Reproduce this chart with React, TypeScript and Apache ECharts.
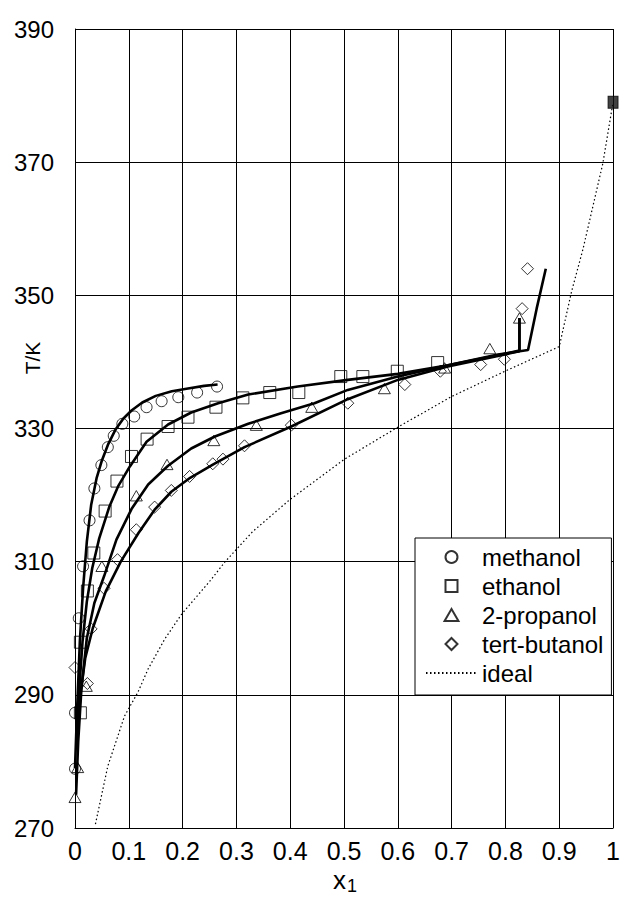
import React, { useEffect, useRef } from "react";
import * as echarts from "echarts";

// x1 (mole fraction) vs T/K
const methanolPoints: number[][] = [
  [0.0, 278.9], [0.0, 287.3], [0.007, 301.5], [0.015, 309.3], [0.027, 316.2], [0.036, 321.0],
  [0.049, 324.5], [0.061, 327.2], [0.072, 328.9], [0.088, 330.7], [0.11, 331.8], [0.133, 333.2],
  [0.161, 334.1], [0.192, 334.7], [0.227, 335.4], [0.264, 336.3],
];
const methanolFit: number[][] = [
  [0.0, 279], [0.004, 288], [0.009, 298], [0.015, 306], [0.022, 313], [0.03, 318.5], [0.04, 322.5],
  [0.05, 325.2], [0.062, 327.7], [0.075, 329.8], [0.09, 331.5], [0.105, 332.7], [0.125, 333.9],
  [0.15, 334.9], [0.18, 335.6], [0.21, 336.0], [0.24, 336.4], [0.265, 336.6],
];

const ethanolPoints: number[][] = [
  [0.01, 287.3], [0.01, 297.9], [0.023, 305.6], [0.035, 311.3], [0.056, 317.6], [0.078, 322.1],
  [0.105, 325.8], [0.134, 328.4], [0.173, 330.3], [0.21, 331.7], [0.262, 333.2], [0.312, 334.6],
  [0.362, 335.4], [0.416, 335.4], [0.494, 337.8], [0.535, 337.8], [0.599, 338.6], [0.674, 339.9],
];
const ethanolFit: number[][] = [
  [0.003, 283], [0.008, 291], [0.014, 298], [0.022, 304], [0.032, 309], [0.045, 313.5], [0.064, 318.3],
  [0.08, 321.3], [0.102, 324.3], [0.133, 328.0], [0.173, 330.6], [0.216, 332.4], [0.266, 333.8],
  [0.322, 335.1], [0.414, 336.3], [0.507, 337.3], [0.6, 338.2], [0.693, 339.5], [0.786, 341.1],
  [0.842, 341.8], [0.858, 348], [0.875, 354],
];

const propanolPoints: number[][] = [
  [0.0, 274.6], [0.005, 279.1], [0.021, 291.3], [0.05, 309.3], [0.114, 319.9], [0.171, 324.6],
  [0.258, 328.2], [0.337, 330.5], [0.44, 333.2], [0.575, 336.0], [0.687, 339.1], [0.771, 342.0],
  [0.826, 346.6],
];
const propanolFit: number[][] = [
  [0.002, 275], [0.006, 283], [0.012, 291], [0.022, 298.5], [0.036, 303.8], [0.054, 307.8],
  [0.077, 313.3], [0.105, 317.9], [0.136, 321.6], [0.173, 324.4], [0.216, 327.0], [0.26, 328.8],
  [0.322, 330.7], [0.383, 332.3], [0.445, 333.8], [0.507, 335.8], [0.6, 337.8], [0.7, 339.6],
  [0.786, 341.0], [0.826, 341.7], [0.826, 346.6],
];

const butanolPoints: number[][] = [
  [0.0, 294.1], [0.023, 291.7], [0.03, 299.9], [0.054, 306.0], [0.079, 310.3], [0.114, 314.8],
  [0.148, 318.2], [0.179, 320.7], [0.213, 322.8], [0.256, 324.7], [0.275, 325.4], [0.315, 327.4],
  [0.402, 330.5], [0.507, 333.8], [0.613, 336.6], [0.679, 338.6], [0.754, 339.6], [0.798, 340.4],
  [0.831, 348.0], [0.841, 354.0],
];
const butanolFit: number[][] = [
  [0.004, 283], [0.01, 290], [0.019, 295.5], [0.033, 300], [0.057, 305.5], [0.085, 310], [0.118, 314.3],
  [0.148, 317.8], [0.179, 320.5], [0.214, 322.6], [0.257, 324.6], [0.315, 327.2], [0.402, 330.3],
  [0.507, 334.4], [0.6, 337.3], [0.693, 339.3], [0.786, 340.9], [0.826, 341.6], [0.826, 346.6],
];

const idealLine: number[][] = [
  [0.038, 270.6], [0.061, 279.3], [0.092, 286.8], [0.117, 290.4], [0.136, 293.9], [0.167, 298.4],
  [0.198, 302.1], [0.253, 307.3], [0.278, 309.9], [0.33, 314.5], [0.399, 319.3], [0.501, 325.4],
  [0.6, 330.2], [0.7, 334.8], [0.799, 338.6], [0.9, 342.3], [0.923, 350.6], [0.944, 356.9],
  [0.981, 369.8], [1.0, 379.0],
];

const pureSolvent: number[][] = [[1.0, 379.0]];

const legendNames = ["methanol", "ethanol", "2-propanol", "tert-butanol", "ideal"];

const FONT = "'Liberation Sans', Arial, Helvetica, sans-serif";

const SQUARE = "path://M0 0H10V10H0Z";
const TRIANGLE = "path://M5 0L10.5 9.5H-0.5Z";
const DIAMOND = "path://M5 0L10 5L5 10L0 5Z";

export default function App() {
  const ref = useRef<HTMLDivElement>(null);

  useEffect(() => {
    if (!ref.current) return;
    const chart = echarts.init(ref.current, undefined, { renderer: "svg" });

    const markerStyle = {
      color: "rgba(0,0,0,0)",
      borderColor: "#000",
      borderWidth: 1,
    };
    const fitStyle = { color: "#000", width: 2.6 };

    const scatter = (name: string, symbol: string, size: number, data: number[][]) => ({
      name,
      type: "scatter",
      symbol,
      symbolSize: size,
      symbolKeepAspect: true,
      data,
      clip: false,
      itemStyle: markerStyle,
      z: 4,
    });
    const fit = (name: string, data: number[][]) => ({
      name,
      type: "line",
      data,
      symbol: "none",
      showSymbol: false,
      clip: false,
      lineStyle: fitStyle,
      z: 3,
    });

    const option: any = {
      animation: false,
      backgroundColor: "#fff",
      textStyle: { fontFamily: FONT, color: "#000" },
      grid: { left: 75, right: 7, top: 29, bottom: 69, containLabel: false },
      xAxis: {
        type: "value",
        min: 0,
        max: 1,
        interval: 0.1,
        axisLine: { show: true, lineStyle: { color: "#000", width: 1 } },
        axisTick: { show: false },
        axisLabel: {
          fontSize: 25,
          color: "#000",
          fontFamily: FONT,
          margin: 10,
          formatter: (v: number) => String(Math.round(v * 10) / 10),
        },
        splitLine: { show: true, lineStyle: { color: "#000", width: 1 } },
      },
      yAxis: {
        type: "value",
        min: 270,
        max: 390,
        interval: 20,
        axisLine: { show: true, lineStyle: { color: "#000", width: 1 } },
        axisTick: { show: false },
        axisLabel: { fontSize: 24, color: "#000", fontFamily: FONT, margin: 21 },
        splitLine: { show: true, lineStyle: { color: "#000", width: 1 } },
      },
      legend: {
        orient: "vertical",
        left: 415,
        top: 538,
        padding: [7, 8, 10, 10],
        itemWidth: 51,
        itemHeight: 12,
        itemGap: 5,
        symbolKeepAspect: true,
        backgroundColor: "#fff",
        borderColor: "#000",
        borderWidth: 1,
        borderRadius: 0,
        textStyle: { fontSize: 24, color: "#000", fontFamily: FONT },
        data: [
          legendNames[0],
          legendNames[1],
          legendNames[2],
          legendNames[3],
          {
            name: legendNames[4],
            itemStyle: { color: "rgba(0,0,0,0)", borderColor: "rgba(0,0,0,0)", borderWidth: 0 },
          },
        ],
        z: 10,
      },
      graphic: [
        {
          type: "text",
          x: 32,
          y: 358,
          rotation: Math.PI / 2,
          style: {
            text: "T/K",
            fontSize: 21,
            fontFamily: FONT,
            fill: "#000",
            align: "center",
            verticalAlign: "middle",
          },
        },
        {
          type: "text",
          x: 346,
          y: 880,
          style: {
            text: "x",
            fontSize: 26,
            fontFamily: FONT,
            fill: "#000",
            align: "right",
            verticalAlign: "middle",
          },
        },
        {
          type: "text",
          x: 347,
          y: 886,
          style: {
            text: "1",
            fontSize: 18,
            fontFamily: FONT,
            fill: "#000",
            align: "left",
            verticalAlign: "middle",
          },
        },
      ],
      series: [
        fit("methanol fit", methanolFit),
        fit("ethanol fit", ethanolFit),
        fit("2-propanol fit", propanolFit),
        fit("tert-butanol fit", butanolFit),
        scatter(legendNames[0], "circle", 11, methanolPoints),
        scatter(legendNames[1], SQUARE, 12, ethanolPoints),
        scatter(legendNames[2], TRIANGLE, 12, propanolPoints),
        scatter(legendNames[3], DIAMOND, 12, butanolPoints),
        {
          name: legendNames[4],
          type: "line",
          data: idealLine,
          symbol: "none",
          showSymbol: false,
          clip: false,
          lineStyle: { color: "#000", width: 1.2, type: [1.5, 2.5] },
          z: 2,
        },
        {
          name: "pure",
          type: "scatter",
          symbol: "rect",
          symbolSize: [10, 12],
          data: pureSolvent,
          clip: false,
          itemStyle: { color: "#111", borderColor: "#000", borderWidth: 1 },
          z: 5,
        },
      ],
    };

    chart.setOption(option);
    return () => chart.dispose();
  }, []);

  return (
    <div
      ref={ref}
      style={{ position: "fixed", left: 0, top: 0, width: 623, height: 897, background: "#fff" }}
    />
  );
}
